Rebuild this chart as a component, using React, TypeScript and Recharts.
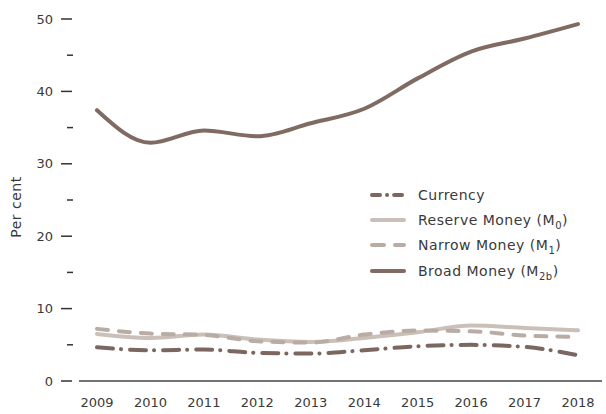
import React from 'react';
import { LineChart, Line, XAxis, YAxis, Legend } from 'recharts';

const years = ['2009', '2010', '2011', '2012', '2013', '2014', '2015', '2016', '2017', '2018'];
const currency = [4.66, 4.25, 4.34, 3.89, 3.79, 4.25, 4.8, 4.99, 4.71, 3.56];
const reserveMoney = [6.5, 5.95, 6.41, 5.72, 5.4, 5.95, 6.73, 7.66, 7.33, 7.0];
const narrowMoney = [7.2, 6.55, 6.37, 5.5, 5.31, 6.41, 6.97, 6.87, 6.28, 6.1];
const broadMoney = [37.4, 32.9, 34.6, 33.8, 35.6, 37.6, 41.8, 45.5, 47.3, 49.3];
const yTicks = [0, 5, 10, 15, 20, 25, 30, 35, 40, 45, 50];

const data = years.map((y, i) => ({
  year: y,
  currency: currency[i],
  reserve: reserveMoney[i],
  narrow: narrowMoney[i],
  broad: broadMoney[i],
}));

const FONT = '"DejaVu Sans", sans-serif';
const TEXT = '#3a3a3a';
const FS = 13;

type S = { key: string; name: string; sub?: string; color: string; dash?: string; legendDash?: string };
const series: S[] = [
  { key: 'currency', name: 'Currency', color: '#7b675f', dash: '16 8 0.1 9', legendDash: '8 7 0.1 7' },
  { key: 'reserve', name: 'Reserve Money (M', sub: '0', color: '#cbc0b9' },
  { key: 'narrow', name: 'Narrow Money (M', sub: '1', color: '#b9aca5', dash: '11 11', legendDash: '12 11' },
  { key: 'broad', name: 'Broad Money (M', sub: '2b', color: '#7f6b62' },
];
const drawOrder = ['reserve', 'narrow', 'currency', 'broad'];

const YTick = (props: any) => {
  const { x, y, payload } = props;
  const v = payload.value;
  const major = v % 10 === 0;
  return (
    <g>
      <line x1={major ? x - 18 : x - 12} x2={major ? x - 7 : x - 6} y1={y} y2={y} stroke="#333" strokeWidth={1.5} />
      {major && (
        <text x={x - 26} y={y} dy="0.35em" textAnchor="end" fontSize={FS} fontFamily={FONT} fill={TEXT}>
          {v}
        </text>
      )}
    </g>
  );
};

const LegendContent = () => (
  <div style={{ fontFamily: FONT, fontSize: 14, letterSpacing: 0.5, color: TEXT, whiteSpace: 'nowrap' }}>
    {series.map((s) => (
      <div key={s.key} style={{ display: 'flex', alignItems: 'center', height: 25.3 }}>
        <svg width={40} height={10} style={{ marginRight: 10 }}>
          <line x1={4} x2={s.key === 'currency' ? 34 : 36} y1={5} y2={5} stroke={s.color} strokeWidth={4}
            strokeLinecap="round" strokeDasharray={s.legendDash} />
        </svg>
        <span>
          {s.name}
          {s.sub && (
            <>
              <span style={{ fontSize: 10, position: 'relative', top: 4 }}>{s.sub}</span>)
            </>
          )}
        </span>
      </div>
    ))}
  </div>
);

const YLabel = (props: any) => {
  const vb = props.viewBox || {};
  const cx = 16;
  const cy = (vb.y || 0) + (vb.height || 0) / 2 + 7;
  return (
    <text x={cx} y={cy} transform={`rotate(-90 ${cx} ${cy})`} textAnchor="middle" dy="0.35em"
      fontSize={14} letterSpacing={0.5} fontFamily={FONT} fill={TEXT}>
      Per cent
    </text>
  );
};

export default function App() {
  return (
    <div style={{ position: 'absolute', left: 0, top: 0, width: 606, height: 414, background: '#fff' }}>
      <LineChart width={606} height={414} data={data} margin={{ top: 19, right: 4, bottom: 3, left: 0 }}>
        <XAxis dataKey="year" height={30} padding={{ left: 18, right: 24 }} tickLine={false} tickSize={0}
          tickMargin={17} axisLine={{ stroke: '#444', strokeWidth: 1.5 }} interval={0}
          tick={{ fontSize: FS, fontFamily: FONT, fill: TEXT }} />
        <YAxis width={79} domain={[0, 50]} ticks={yTicks} interval={0} axisLine={false} tickLine={false}
          tickSize={0} tickMargin={0} tick={<YTick />} label={<YLabel />} />
        <Legend content={<LegendContent />}
          wrapperStyle={{ position: 'absolute', left: 368, top: 182, width: 'auto', height: 0, overflow: 'visible' }} />
        {drawOrder.map((k) => {
          const s = series.find((x) => x.key === k)!;
          return (
            <Line key={k} type="monotone" dataKey={k} name={s.name} stroke={s.color} strokeWidth={4}
              strokeDasharray={s.dash} strokeLinecap="round" dot={false} activeDot={false} isAnimationActive={false} />
          );
        })}
      </LineChart>
    </div>
  );
}
